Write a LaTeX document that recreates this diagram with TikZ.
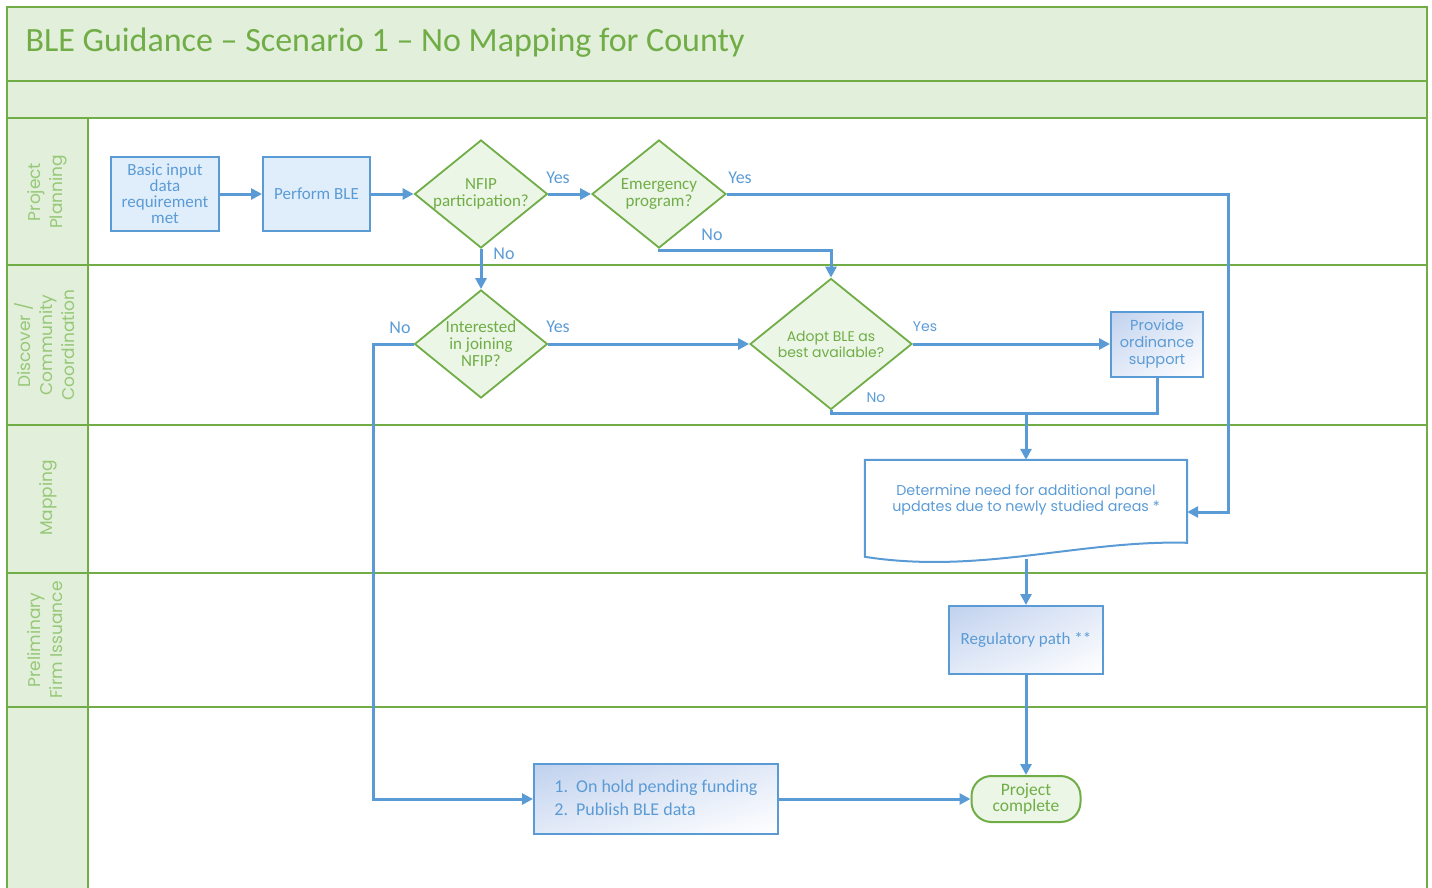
\documentclass[tikz,border=0pt]{standalone}
\usepackage{fontspec}
\setmainfont{Carlito}
\newfontfamily\gothic{Poppins}
\usepackage{tikz}
\usetikzlibrary{positioning, arrows.meta, shapes.geometric, shadings, calc}
\definecolor{lanegreen}{RGB}{112,173,71}
\definecolor{lanefill}{RGB}{226,239,218}
\definecolor{lanetext}{RGB}{150,200,120}
\definecolor{decfill}{RGB}{235,246,230}
\definecolor{flowblue}{RGB}{91,155,213}
\definecolor{boxfill}{RGB}{224,238,252}
\definecolor{gradblue}{RGB}{192,209,238}

\begin{document}
\begin{tikzpicture}[x=1pt, y=-1pt,
    lanelabel/.style={rotate=90, align=center, text=lanetext, font={\gothic\fontsize{17}{22}\selectfont}},
    process/.style={rectangle, draw=flowblue, line width=2pt, fill=boxfill, text=flowblue, align=center, inner sep=2pt, font={\fontsize{17}{16}\selectfont}},
    shadedbox/.style={rectangle, draw=flowblue, line width=2pt, upper left=gradblue, lower right=white, upper right=gradblue!45!white, lower left=gradblue!45!white, text=flowblue, align=center, inner sep=2pt},
    decision/.style={diamond, draw=lanegreen, line width=1.8pt, fill=decfill, inner sep=0pt},
    dectext/.style={text=lanegreen, align=center, inner sep=0pt, font={\fontsize{17}{17}\selectfont}},
    flow/.style={draw=flowblue, line width=3pt, -{Triangle[length=11pt, width=11pt]}},
    link/.style={draw=flowblue, line width=3pt},
    answer/.style={text=flowblue, font={\fontsize{18}{18}\selectfont}},
    gothicanswer/.style={text=flowblue, font={\gothic\fontsize{14}{16}\selectfont}}
]
    \useasboundingbox (0,0) rectangle (1432,888);

    % === BANDES ET COULOIRS ===
    \fill[lanefill] (7,7) rectangle (1427,118);
    \fill[lanefill] (7,118) rectangle (88,888);
    \draw[lanegreen, line width=2pt] (7,888) -- (7,7) -- (1427,7) -- (1427,888);
    \foreach \y in {81,118,265,425,573,707}
        \draw[lanegreen, line width=2pt] (7,\y) -- (1427,\y);
    \draw[lanegreen, line width=2pt] (88,118) -- (88,888);

    % Titre
    \node[anchor=west, text=lanegreen, font={\fontsize{34}{36}\selectfont}] (title) at (22,43) {BLE Guidance – Scenario 1 – No Mapping for County};

    % Noms des couloirs
    \node[lanelabel] (lplan) at (47,192) {Project\\Planning};
    \node[lanelabel] (ldisc) at (45,345) {Discover /\\Community\\Coordination};
    \node[lanelabel] (lmap) at (48,498) {Mapping};
    \node[lanelabel] (lprelim) at (45,640) {Preliminary\\Firm Issuance};

    % === ETAPES ===
    \node[process, minimum width=108pt, minimum height=74pt] (basic) at (165,194) {Basic input\\data\\requirement\\met};
    \node[process, minimum width=107pt, minimum height=74pt] (perform) at (316.5,194) {Perform BLE};
    \node[decision, minimum width=133pt, minimum height=108pt, label={[dectext]center:NFIP\\participation?}] (nfip) at (481,194) {};
    \node[decision, minimum width=134pt, minimum height=108pt, label={[dectext]center:Emergency\\program?}] (emerg) at (659,194) {};
    \node[decision, minimum width=133pt, minimum height=108pt, label={[dectext]center:Interested\\in joining\\NFIP?}] (interested) at (481,344) {};
    \node[decision, minimum width=162pt, minimum height=131pt, label={[dectext, font={\gothic\fontsize{14}{16}\selectfont}]center:Adopt BLE as\\best available?}] (adopt) at (831,344) {};
    \node[shadedbox, minimum width=92pt, minimum height=65pt, font={\gothic\fontsize{14.5}{17}\selectfont}] (provide) at (1157,344) {Provide\\ordinance\\support};

    % Document (bas ondulé)
    \node[rectangle, minimum width=322pt, minimum height=80pt, text=flowblue, align=center, font={\gothic\fontsize{14.3}{16.5}\selectfont}] (determine) at (1026,500) {Determine need for additional panel\\updates due to newly studied areas *};
    \draw[flowblue, line width=2pt] (determine.north west) -- (determine.north east) -- ($(determine.north east)+(0,83)$)
        .. controls ($(determine.north east)+(-107,80)$) and ($(determine.north west)+(115,115)$) .. ($(determine.north west)+(0,97)$) -- cycle;
    \coordinate (docbottom) at ($(determine.south)+(0,19)$);

    \node[shadedbox, minimum width=154pt, minimum height=68pt, font={\fontsize{17}{17}\selectfont}] (regulatory) at (1026,640) {Regulatory path **};
    \node[shadedbox, minimum width=244pt, minimum height=70pt, font={\fontsize{18}{23}\selectfont}] (onhold) at (656,799)
        {\begin{tabular}{@{}l@{\hspace{8pt}}l@{}}1. & On hold pending funding\\ 2. & Publish BLE data\end{tabular}};
    \node[rectangle, rounded corners=20pt, draw=lanegreen, line width=2pt, fill=decfill, text=lanegreen, align=center, minimum width=109pt, minimum height=46pt, inner sep=1pt, font={\fontsize{17.5}{16.5}\selectfont}] (complete) at (1026,799) {Project\\complete};

    % === CONNECTEURS ===
    \coordinate (yesturn) at (1228,194);
    \coordinate (noturn) at (373,344);
    \coordinate (merge) at (1026,413);

    \draw[flow] (basic) -- (perform);
    \draw[flow] (perform) -- (nfip);
    \draw[flow] (nfip) -- (emerg);
    \draw[flow] (nfip) -- (interested);
    \draw[flow] (interested) -- (adopt);
    \draw[flow] (adopt) -- (provide);
    \draw[flow] (emerg.east) -- (yesturn) |- ([yshift=-12pt]determine.east);
    \draw[flow] (emerg.south) -- ++(0,2) -| (adopt.north);
    \draw[flow] (interested.west) -- (noturn) |- (onhold.west);
    \draw[link] (adopt.south) |- (merge);
    \draw[link] (provide.south) |- (merge);
    \draw[flow] (merge) -- (determine.north);
    \draw[flow] (docbottom) -- (regulatory);
    \draw[flow] (regulatory) -- (complete);
    \draw[flow] (onhold) -- (complete);

    % Réponses
    \node[answer] (yes1) at (558,178) {Yes};
    \node[answer] (yes2) at (740,178) {Yes};
    \node[answer] (yes3) at (558,327) {Yes};
    \node[gothicanswer] (yes4) at (925,327) {Yes};
    \node[answer] (no1) at (504,254) {No};
    \node[answer] (no2) at (712,235) {No};
    \node[answer] (no3) at (400,328) {No};
    \node[gothicanswer] (no4) at (876,398) {No};

\end{tikzpicture}
\end{document}
